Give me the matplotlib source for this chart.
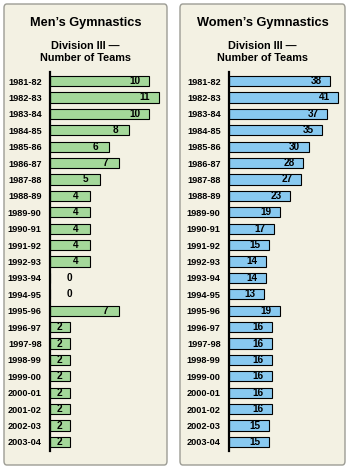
import matplotlib
matplotlib.use("Agg")
import matplotlib.pyplot as plt
from matplotlib.patches import FancyBboxPatch

plt.rcParams['font.family'] = ['Liberation Sans', 'DejaVu Sans']
plt.rcParams['font.weight'] = 'bold'

seasons = ["1981-82", "1982-83", "1983-84", "1984-85", "1985-86", "1986-87", "1987-88",
           "1988-89", "1989-90", "1990-91", "1991-92", "1992-93", "1993-94", "1994-95",
           "1995-96", "1996-97", "1997-98", "1998-99", "1999-00", "2000-01", "2001-02",
           "2002-03", "2003-04"]
men = [10, 11, 10, 8, 6, 7, 5, 4, 4, 4, 4, 4, 0, 0, 7, 2, 2, 2, 2, 2, 2, 2, 2]
women = [38, 41, 37, 35, 30, 28, 27, 23, 19, 17, 15, 14, 14, 13, 19, 16, 16, 16, 16, 16, 16, 15, 15]

W, H = 350, 471
fig = plt.figure(figsize=(W / 100, H / 100), dpi=100)
fig.patch.set_facecolor('white')

def px(x0, y0, x1, y1):
    # pixel box (top-left origin) -> figure fraction rect
    return [x0 / W, 1 - y1 / H, (x1 - x0) / W, (y1 - y0) / H]

def panel(x0, x1, title, vals, color, xmax, axx):
    r = px(x0, 4, x1, 465)
    fig.patches.append(FancyBboxPatch((r[0], r[1]), r[2], r[3], boxstyle="round,pad=0,rounding_size=0.008",
                                      transform=fig.transFigure, facecolor='#f3f1e3',
                                      edgecolor='#9c9c94', lw=1.0, zorder=-5))
    cx = (x0 + x1) / 2 / W
    fig.text(cx, 1 - 23 / H, title, ha='center', va='center', fontsize=9.2, weight='bold')
    fig.text(cx, 1 - 52 / H, "Division III \u2014\nNumber of Teams", ha='center', va='center',
             fontsize=7.8, linespacing=1.2, weight='bold')

    ax = fig.add_axes(px(axx, 72, x1 - 3, 451))
    ax.set_zorder(2)
    ax.set_facecolor('none')
    y = range(len(vals))
    ax.barh(y, vals, height=0.62, color=color, edgecolor='black', lw=0.8, zorder=2)
    ax.set_ylim(22.55, -0.55)
    ax.set_xlim(0, xmax)
    for s in ['top', 'right', 'bottom']:
        ax.spines[s].set_visible(False)
    ax.spines['left'].set_linewidth(1.6)
    ax.set_xticks([])
    ax.set_yticks(list(y))
    ax.set_yticklabels(seasons, fontsize=6.6, fontweight='bold')
    ax.tick_params(axis='y', length=0, pad=6)
    ppu = (x1 - 3 - axx) / xmax  # pixels per unit
    for i, v in enumerate(vals):
        if v == 0:
            ax.annotate(str(v), (0, i), xytext=(14, 0), textcoords='offset points',
                        ha='center', va='center', fontsize=7.2, fontweight='bold', zorder=3)
        else:
            lx = max(v - 14 / ppu, v / 2)
            ax.text(lx, i, str(v), ha='center', va='center', fontsize=7.2,
                    fontweight='bold', zorder=3)

panel(4, 167, "Men\u2019s Gymnastics", men, '#a4d89a', 11.5, 50)
panel(180, 345, "Women\u2019s Gymnastics", women, '#88c9f0', 42.5, 229)

fig.savefig("out.png", dpi=100, facecolor='white')
